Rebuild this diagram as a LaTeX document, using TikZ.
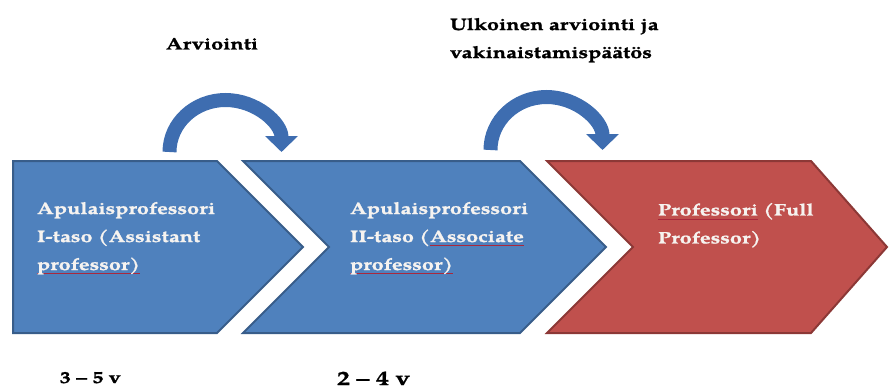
\documentclass[tikz,border=0pt]{standalone}
\usepackage{fontspec}
\setmainfont{TeX Gyre Pagella}[FakeStretch=1.3, BoldFeatures={FakeBold=1.2}]
\usetikzlibrary{arrows.meta}

\definecolor{chevblue}{RGB}{79,129,189}
\definecolor{chevblueline}{RGB}{56,93,138}
\definecolor{chevred}{RGB}{192,80,77}
\definecolor{chevredline}{RGB}{140,56,54}
\definecolor{arcblue}{RGB}{62,109,176}
\definecolor{labelwhite}{RGB}{246,243,240}
\definecolor{spellred}{RGB}{170,40,60}

% red line under the words the spell checker marked
\newcommand{\spellerr}[1]{\setbox0\hbox{#1}\rlap{\color{spellred}\rule[-3pt]{\wd0}{0.5pt}}\box0\relax}

\begin{document}
\begin{tikzpicture}[x=0.75pt, y=-0.75pt,
  every node/.style={inner sep=0pt, outer sep=0pt},
  bluechev/.style={fill=chevblue, draw=chevblueline, line width=1.5pt},
  redchev/.style={fill=chevred, draw=chevredline, line width=1.5pt},
  boxtext/.style={anchor=north west, align=left, text=labelwhite, font=\bfseries\fontsize{12.5}{21}\selectfont},
  toptext/.style={align=left, text=black, font=\bfseries\fontsize{12.5}{21}\selectfont},
  curvearrow/.style={draw=arcblue, line width=10.5pt, -{Triangle[width=24pt,length=12pt]}}]
\useasboundingbox (0,0) rectangle (889,390);

% Chevrons left to right
\draw[bluechev] (13,161) -- (217,161) -- (303,247) -- (217,333) -- (13,333) -- cycle;
\draw[bluechev] (243,161) -- (520,161) -- (606,247) -- (520,333) -- (243,333) -- (329,247) -- cycle;
\draw[redchev] (547,161) -- (811,161) -- (887,247) -- (811,333) -- (547,333) -- (633,247) -- cycle;

% Text inside the chevrons
\node[boxtext] (assistant) at (37,202) {Apulaisprofessori\\I-taso (Assistant\\\spellerr{professor)}};
\node[boxtext] (associate) at (350,202) {Apulaisprofessori\\II-taso (\spellerr{Associate}\\\spellerr{professor)}};
\node[boxtext] (full) at (658,203) {\spellerr{Professori} (Full\\Professor)};

% Curved arrows over the gaps
\coordinate (firststart) at (169.5,152);
\coordinate (secondstart) at (490.5,150);
\draw[curvearrow] (firststart) arc[start angle=180, end angle=360, x radius=56, y radius=52];
\draw[curvearrow] (secondstart) arc[start angle=180, end angle=360, x radius=56, y radius=53];

% Labels above
\node[toptext, anchor=north] (evaluation) at (212,38) {Arviointi};
\node[toptext, anchor=north west] (tenure) at (450,18) {Ulkoinen arviointi ja\\vakinaistamispäätös};

% Durations below
\node[anchor=base west, font=\bfseries\fontsize{12.5}{14}\selectfont] (firstspan) at (60,383) {3 – 5 v};
\node[anchor=base west, font=\bfseries\fontsize{15}{17}\selectfont] (secondspan) at (337,385) {2 – 4 v};
\end{tikzpicture}
\end{document}
